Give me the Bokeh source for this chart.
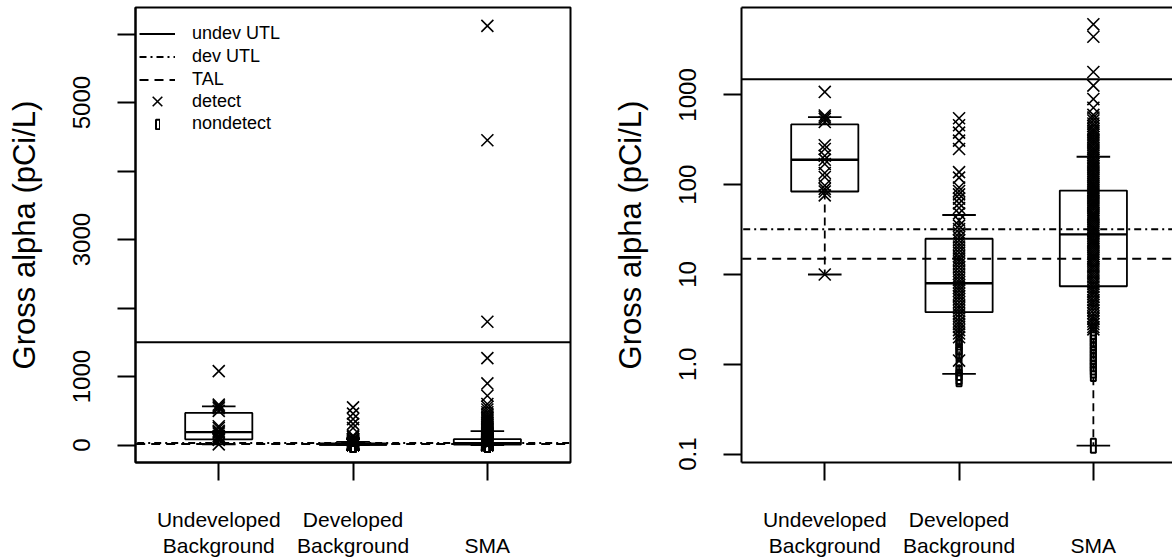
from bokeh.plotting import figure
from bokeh.models import (ColumnDataSource, FixedTicker, Legend, LegendItem,
                          LinearAxis, Range1d)
from bokeh.layouts import row
from bokeh.embed import file_html
from bokeh.resources import INLINE

# ---------------- data ----------------
categories = ["Undeveloped\nBackground", "Developed\nBackground", "SMA"]

box_q1 = [84, 3.8, 7.4]
box_median = [190, 8.0, 28]
box_q3 = [470, 25, 86]
whisker_lo = [10, 0.78, 0.124]
whisker_hi = [565, 46, 205]

undev_utl = 1500
dev_utl = 32
tal = 15

undev_detect = [1080, 590, 565, 540, 500, 275, 250, 210, 190, 170, 135, 122,
                98, 90, 84, 76, 10]
undev_nondetect = []

dev_detect = [550, 460, 380, 310, 250, 138, 120, 93, 85, 78, 70, 62, 55, 48,
              40, 35, 32, 29, 26, 24, 22, 20.5, 19, 17.5, 16, 15, 14, 13, 12,
              11, 10.2, 9.5, 8.8, 8.2, 7.6, 7.1, 6.6, 6.1, 5.7, 5.3, 4.9, 4.5,
              4.2, 3.9, 3.6, 3.3, 3.0, 2.8, 2.6, 2.4, 2.2, 2.0, 1.1]
dev_nondetect = [1.95, 1.75, 1.55, 1.4, 1.3, 0.9, 0.8, 0.72, 0.68]

sma_detect = [6120, 4450, 1800, 1270, 900, 720, 600,
              560, 520, 480, 450, 420, 400, 380, 360, 340, 320, 305, 290, 275,
              260, 248, 236, 225, 212, 200, 190, 180, 171, 163, 155, 148, 140,
              133, 126, 120, 114, 108, 102, 97, 92, 87, 83, 79, 75, 71, 67, 64,
              61, 58, 55, 52, 49, 47, 45, 43, 41, 39, 37, 35, 33, 31.5, 30,
              28.5, 27, 25.5, 24, 23, 22, 21, 20, 19, 18, 17, 16, 15.2, 14.4,
              13.6, 12.8, 12, 11.3, 10.6, 10, 9.4, 8.8, 8.3, 7.8, 7.3, 6.8,
              6.4, 6.0, 5.6, 5.2, 4.9, 4.6, 4.3, 4.0, 3.7, 3.4, 3.2, 3.0, 2.8,
              2.6, 2.45]
sma_nondetect = [2.3, 2.1, 1.9, 1.75, 1.6, 1.45, 1.3, 1.2, 1.1, 1.0, 0.92,
                 0.85, 0.78, 0.124]

lin_ticks = [0, 1000, 2000, 3000, 4000, 5000, 6000]
lin_tick_labels = ["0", "1000", "", "3000", "", "5000", ""]
log_ticks = [0.1, 1, 10, 100, 1000]
log_tick_labels = ["0.1", "1.0", "10", "100", "1000"]

# ---------------- styling ----------------
FONT = "Liberation Sans"
positions = [i + 1 for i in range(len(categories))]
BOX_W = 0.5
STAPLE_W = 0.25
X_LO = 0.38
PX_PER_UNIT = 134.3

detect_groups = [undev_detect, dev_detect, sma_detect]
nondetect_groups = [undev_nondetect, dev_nondetect, sma_nondetect]

det_x, det_y, nd_x, nd_y = [], [], [], []
for pos, d, nd in zip(positions, detect_groups, nondetect_groups):
    det_x += [pos] * len(d)
    det_y += d
    nd_x += [pos] * len(nd)
    nd_y += nd

x_label_overrides = {}
for pos, c in zip(positions, categories):
    x_label_overrides[pos] = c if "\n" in c else "\n" + c


def build(y_type, y_start, y_end, frame_w, border_l, border_r, ticks, labels):
    x_hi = X_LO + frame_w / PX_PER_UNIT
    p = figure(frame_width=frame_w, frame_height=455,
               x_range=Range1d(X_LO, x_hi), y_range=Range1d(y_start, y_end),
               y_axis_type=y_type, output_backend="svg", toolbar_location=None,
               min_border_left=border_l, min_border_right=border_r,
               min_border_top=7, min_border_bottom=0)
    p.xgrid.visible = False
    p.ygrid.visible = False
    p.outline_line_color = "black"
    p.outline_line_width = 2

    xa = p.xaxis[0]
    xa.ticker = FixedTicker(ticks=positions)
    xa.major_label_overrides = x_label_overrides
    xa.major_tick_out = 18
    xa.major_tick_in = 0
    xa.major_tick_line_width = 2
    xa.axis_line_width = 2
    xa.minor_tick_line_color = None
    xa.major_label_text_font = FONT
    xa.major_label_text_font_size = "21px"
    xa.major_label_text_color = "black"
    xa.major_label_text_line_height = 1.15
    xa.major_label_standoff = 27

    ya = p.yaxis[0]
    ya.ticker = FixedTicker(ticks=ticks)
    ya.major_label_overrides = dict(zip(ticks, labels))
    ya.major_label_orientation = "vertical"
    ya.major_tick_out = 18
    ya.major_tick_in = 0
    ya.major_tick_line_width = 2
    ya.axis_line_width = 2
    ya.minor_tick_line_color = None
    ya.major_label_text_font = FONT
    ya.major_label_text_font_size = "24px"
    ya.major_label_text_color = "black"
    ya.major_label_standoff = 27
    ya.axis_label = "Gross alpha (pCi/L)"
    ya.axis_label_text_font = FONT
    ya.axis_label_text_font_size = "31px"
    ya.axis_label_text_font_style = "normal"
    ya.axis_label_text_color = "black"
    ya.axis_label_standoff = 29

    # boxes
    p.vbar(x=positions, bottom=box_q1, top=box_q3, width=BOX_W,
           fill_color=None, line_color="black", line_width=1.8)
    p.segment(x0=[x - BOX_W / 2 for x in positions], x1=[x + BOX_W / 2 for x in positions],
              y0=box_median, y1=box_median, line_color="black", line_width=2.4)
    # whiskers
    p.segment(x0=positions, x1=positions, y0=box_q3, y1=whisker_hi,
              line_color="black", line_width=1.8, line_dash="8 5")
    p.segment(x0=positions, x1=positions, y0=box_q1, y1=whisker_lo,
              line_color="black", line_width=1.8, line_dash="8 5")
    p.segment(x0=[x - STAPLE_W / 2 for x in positions], x1=[x + STAPLE_W / 2 for x in positions],
              y0=whisker_hi, y1=whisker_hi, line_color="black", line_width=1.8)
    p.segment(x0=[x - STAPLE_W / 2 for x in positions], x1=[x + STAPLE_W / 2 for x in positions],
              y0=whisker_lo, y1=whisker_lo, line_color="black", line_width=1.8)

    # points
    r_det = p.scatter(x=det_x, y=det_y, marker="x", size=17, line_color="black",
                      line_width=1.6)
    r_nd = p.rect(x=nd_x, y=nd_y, width=5, height=14, width_units="screen",
                  height_units="screen", fill_color=None, line_color="black",
                  line_width=2)

    # reference lines
    r_undev = p.segment(x0=[X_LO - 1], x1=[x_hi + 1], y0=[undev_utl], y1=[undev_utl],
                        line_color="black", line_width=2)
    r_dev = p.segment(x0=[X_LO - 1], x1=[x_hi + 1], y0=[dev_utl], y1=[dev_utl],
                      line_color="black", line_width=2, line_dash="7 4 2 4")
    r_tal = p.segment(x0=[X_LO - 1], x1=[x_hi + 1], y0=[tal], y1=[tal],
                      line_color="black", line_width=2, line_dash="9 6")
    return p, dict(undev=r_undev, dev=r_dev, tal=r_tal, det=r_det, nd=r_nd)


p1, r1 = build("linear", -254, 6388, 435, 135, 30, lin_ticks, lin_tick_labels)
p2, r2 = build("log", 0.0805, 9420, 431, 141, 0, log_ticks, log_tick_labels)

# right panel: clipped on the right, draw top border with an empty axis
p2.outline_line_color = None
top = LinearAxis(ticker=FixedTicker(ticks=[]), axis_line_width=2,
                 major_tick_out=0, major_tick_in=0, minor_tick_out=0,
                 minor_tick_in=0, major_label_standoff=0,
                 major_label_text_font_size="0px")
p2.add_layout(top, "above")

leg1 = Legend(items=[LegendItem(label="undev UTL", renderers=[r1["undev"]]),
                     LegendItem(label="dev UTL", renderers=[r1["dev"]]),
                     LegendItem(label="TAL", renderers=[r1["tal"]])],
              location=(4, 371), glyph_width=36, glyph_height=23, spacing=0,
              padding=0, margin=0, label_standoff=17, label_text_font=FONT,
              label_text_font_size="18px", label_text_color="black",
              border_line_color=None, background_fill_alpha=0)
leg_det = Legend(items=[LegendItem(label="detect", renderers=[r1["det"]])],
                 location=(4, 344), glyph_width=36, glyph_height=34, spacing=0,
                 padding=0, margin=0, label_standoff=17, label_text_font=FONT,
                 label_text_font_size="18px", label_text_color="black",
                 border_line_color=None, background_fill_alpha=0)
leg2 = Legend(items=[LegendItem(label="nondetect", renderers=[r1["nd"]])],
              location=(20, 328), glyph_width=5, glyph_height=12, spacing=0,
              padding=0, margin=0, label_standoff=32, label_text_font=FONT,
              label_text_font_size="18px", label_text_color="black",
              border_line_color=None, background_fill_alpha=0)
p1.add_layout(leg1)
p1.add_layout(leg_det)
p1.add_layout(leg2)

layout = row(p1, p2)
open("out.html", "w").write(file_html(layout, INLINE))
